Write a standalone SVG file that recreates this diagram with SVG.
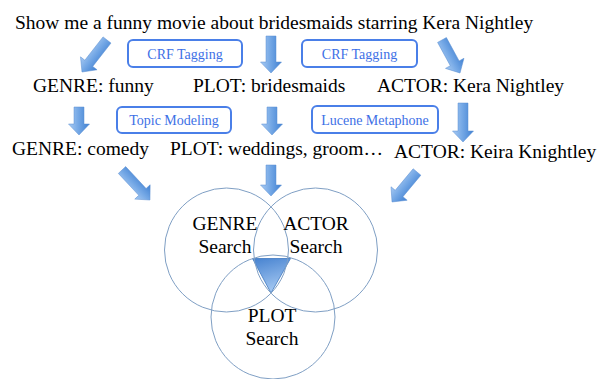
<svg xmlns="http://www.w3.org/2000/svg" width="598" height="379" viewBox="0 0 598 379">
<defs>
<linearGradient id="ag" x1="0" y1="0" x2="1" y2="0">
<stop offset="0" stop-color="#a9cbf3"/>
<stop offset="0.45" stop-color="#76a9e6"/>
<stop offset="1" stop-color="#3f80d2"/>
</linearGradient>
<linearGradient id="tg" x1="0" y1="0" x2="0.3" y2="1">
<stop offset="0" stop-color="#4682d0"/>
<stop offset="1" stop-color="#a3c7f1"/>
</linearGradient>
</defs>
<style>
.t{font-family:"Liberation Serif","Times New Roman",serif;font-size:19.5px;fill:#000}
.c{font-family:"Liberation Serif","Times New Roman",serif;font-size:19.5px;fill:#000;text-anchor:middle}
.lb{font-family:"Liberation Serif","Times New Roman",serif;font-size:14px;fill:#3d70e6;text-anchor:middle}
.box{fill:#fff;stroke:#4a7fe8;stroke-width:2}
.a{fill:url(#ag);stroke:#5b8fd2;stroke-width:0.5}
.circ{fill:none;stroke:#7f9fc4;stroke-width:1}
</style>

<g id="query"><text class="t" x="15" y="29">Show me a funny movie about bridesmaids starring Kera Nightley</text></g>

<g id="crf1"><rect class="box" x="128" y="40" width="114" height="27" rx="5"/><text class="lb" x="185" y="58.5">CRF Tagging</text></g>
<g id="crf2"><rect class="box" x="302" y="40" width="115" height="27" rx="5"/><text class="lb" x="359.5" y="58.5">CRF Tagging</text></g>

<g id="genre1"><text class="t" x="33" y="92">GENRE: funny</text></g>
<g id="plot1"><text class="t" x="193" y="92">PLOT: bridesmaids</text></g>
<g id="actor1"><text class="t" x="377" y="92">ACTOR: Kera Nightley</text></g>

<g id="topic"><rect class="box" x="117" y="107" width="114" height="26" rx="5"/><text class="lb" x="174" y="125">Topic Modeling</text></g>
<g id="lucene"><rect class="box" x="312" y="106" width="126" height="27" rx="5"/><text class="lb" x="375" y="125">Lucene Metaphone</text></g>

<g id="genre2"><text class="t" x="12" y="155">GENRE: comedy</text></g>
<g id="plot2"><text class="t" x="170" y="155">PLOT: weddings, groom…</text></g>
<g id="actor2"><text class="t" x="394" y="158">ACTOR: Keira Knightley</text></g>

<g id="venn">
<path d="M252.5,258.5 L290.5,258.5 L271,293 Z" fill="url(#tg)" stroke="#3f78c0" stroke-width="0.8"/>
<circle class="circ" cx="226.5" cy="250" r="62"/>
<circle class="circ" cx="315.5" cy="250" r="62"/>
<circle class="circ" cx="273" cy="317" r="62"/>
</g>
<g id="genreSearch"><text class="c" x="225" y="230">GENRE</text><text class="c" x="225" y="253">Search</text></g>
<g id="actorSearch"><text class="c" x="316" y="230">ACTOR</text><text class="c" x="316" y="253">Search</text></g>
<g id="plotSearch"><text class="c" x="272" y="322">PLOT</text><text class="c" x="272" y="345">Search</text></g>

<g id="connectors">
<path class="a" transform="translate(107,40) rotate(38)" d="M-5,0 L5,0 L5,29.6 L10.5,29.6 L0,40.6 L-10.5,29.6 L-5,29.6 Z"/>
<path class="a" transform="translate(271,36)" d="M-5,0 L5,0 L5,26 L10.5,26 L0,37 L-10.5,26 L-5,26 Z"/>
<path class="a" transform="translate(442,40) rotate(-28.6)" d="M-5,0 L5,0 L5,26.6 L10.5,26.6 L0,37.6 L-10.5,26.6 L-5,26.6 Z"/>
<path class="a" transform="translate(79,107)" d="M-5,0 L5,0 L5,17 L10.5,17 L0,28 L-10.5,17 L-5,17 Z"/>
<path class="a" transform="translate(272,107)" d="M-5,0 L5,0 L5,17 L10.5,17 L0,28 L-10.5,17 L-5,17 Z"/>
<path class="a" transform="translate(463,103)" d="M-5,0 L5,0 L5,28 L10.5,28 L0,39 L-10.5,28 L-5,28 Z"/>
<path class="a" transform="translate(122,170) rotate(-43)" d="M-5,0 L5,0 L5,30 L10.5,30 L0,41 L-10.5,30 L-5,30 Z"/>
<path class="a" transform="translate(271,165)" d="M-5,0 L5,0 L5,20 L10.5,20 L0,31 L-10.5,20 L-5,20 Z"/>
<path class="a" transform="translate(417,172) rotate(39.8)" d="M-5,0 L5,0 L5,28 L10.5,28 L0,39 L-10.5,28 L-5,28 Z"/>
</g>
</svg>
